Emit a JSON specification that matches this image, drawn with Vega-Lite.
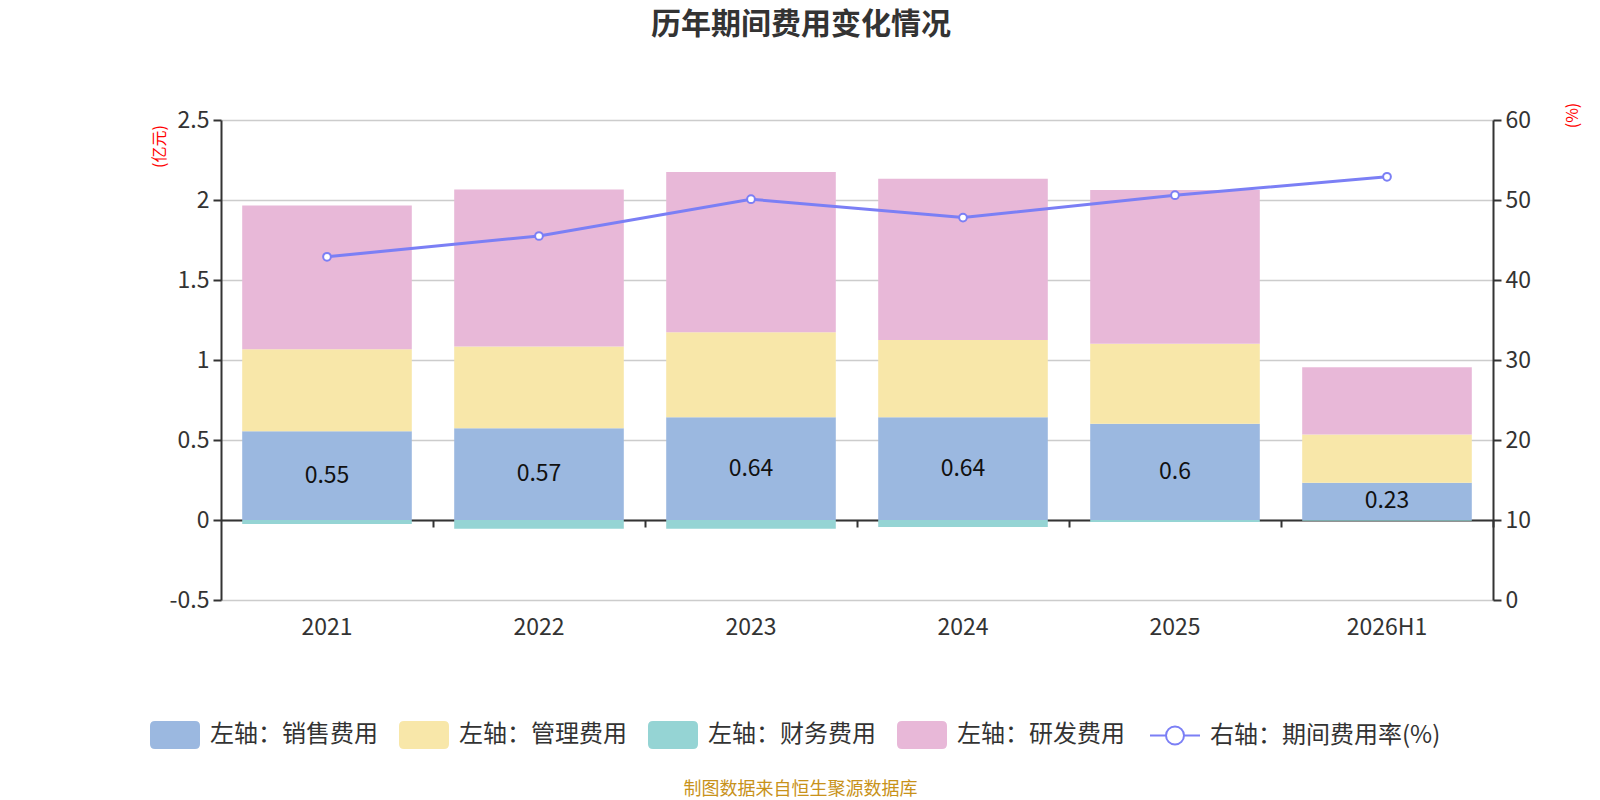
{
  "$schema": "https://vega.github.io/schema/vega-lite/v6.json",
  "description": "历年期间费用变化情况",
  "width": 1272,
  "height": 480,
  "autosize": {"type": "none"},
  "padding": {"left": 221, "top": 120, "right": 107, "bottom": 200},
  "background": "#ffffff",
  "title": {
    "text": "历年期间费用变化情况",
    "font": "Noto Sans CJK SC",
    "fontSize": 30,
    "fontWeight": "bold",
    "color": "#333333",
    "anchor": "middle",
    "dx": -56,
    "offset": 62
  },
  "config": {
    "view": {"stroke": null},
    "font": "Noto Sans CJK SC"
  },
  "datasets": {
    "costs": [
      {"year": "2021", "item": "左轴：销售费用", "value": 0.554},
      {"year": "2021", "item": "左轴：管理费用", "value": 0.513},
      {"year": "2021", "item": "左轴：财务费用", "value": -0.025},
      {"year": "2021", "item": "左轴：研发费用", "value": 0.898},
      {"year": "2022", "item": "左轴：销售费用", "value": 0.573},
      {"year": "2022", "item": "左轴：管理费用", "value": 0.512},
      {"year": "2022", "item": "左轴：财务费用", "value": -0.054},
      {"year": "2022", "item": "左轴：研发费用", "value": 0.98},
      {"year": "2023", "item": "左轴：销售费用", "value": 0.642},
      {"year": "2023", "item": "左轴：管理费用", "value": 0.531},
      {"year": "2023", "item": "左轴：财务费用", "value": -0.054},
      {"year": "2023", "item": "左轴：研发费用", "value": 1.002},
      {"year": "2024", "item": "左轴：销售费用", "value": 0.642},
      {"year": "2024", "item": "左轴：管理费用", "value": 0.483},
      {"year": "2024", "item": "左轴：财务费用", "value": -0.044},
      {"year": "2024", "item": "左轴：研发费用", "value": 1.008},
      {"year": "2025", "item": "左轴：销售费用", "value": 0.602},
      {"year": "2025", "item": "左轴：管理费用", "value": 0.5},
      {"year": "2025", "item": "左轴：财务费用", "value": -0.013},
      {"year": "2025", "item": "左轴：研发费用", "value": 0.96},
      {"year": "2026H1", "item": "左轴：销售费用", "value": 0.233},
      {"year": "2026H1", "item": "左轴：管理费用", "value": 0.302},
      {"year": "2026H1", "item": "左轴：财务费用", "value": -0.004},
      {"year": "2026H1", "item": "左轴：研发费用", "value": 0.419}
    ],
    "rate": [
      {"year": "2021", "rate": 42.9},
      {"year": "2022", "rate": 45.5},
      {"year": "2023", "rate": 50.1},
      {"year": "2024", "rate": 47.8},
      {"year": "2025", "rate": 50.6},
      {"year": "2026H1", "rate": 52.9}
    ]
  },
  "layer": [
    {
      "data": {"name": "costs"},
      "layer": [
        {
          "transform": [
            {
              "calculate": "indexof(['左轴：销售费用','左轴：管理费用','左轴：财务费用','左轴：研发费用'], datum.item)",
              "as": "ord"
            }
          ],
          "mark": {"type": "bar"},
          "encoding": {
            "x": {
              "field": "year",
              "type": "nominal",
              "sort": null,
              "scale": {"paddingInner": 0.2, "paddingOuter": 0.1},
              "axis": {
                "orient": "bottom",
                "domain": false,
                "ticks": false,
                "grid": false,
                "labelAngle": 0,
                "labelFontSize": 23,
                "labelColor": "#333333",
                "labelPadding": 16,
                "title": "制图数据来自恒生聚源数据库",
                "titleColor": "#c8921a",
                "titleFontSize": 18,
                "titleFontWeight": "normal",
                "titleX": 579,
                "titleY": 189,
                "titleAlign": "center",
                "titleBaseline": "middle"
              }
            },
            "y": {
              "field": "value",
              "type": "quantitative",
              "stack": "zero",
              "scale": {"domain": [-0.5, 2.5], "nice": false, "zero": false},
              "axis": {
                "orient": "left",
                "values": [-0.5, 0, 0.5, 1, 1.5, 2, 2.5],
                "labelExpr": "datum.value + ''",
                "labelFontSize": 23,
                "labelColor": "#333333",
                "labelPadding": 4,
                "domain": true,
                "domainColor": "#333333",
                "domainWidth": 2,
                "ticks": true,
                "tickSize": 8,
                "tickWidth": 2,
                "tickColor": "#333333",
                "grid": true,
                "gridColor": "#cccccc",
                "gridWidth": 1.5,
                "title": "(亿元)",
                "titleColor": "#ff0000",
                "titleFontSize": 16,
                "titleFontWeight": "normal",
                "titleAngle": -90,
                "titleX": -62,
                "titleY": 26,
                "titleAlign": "center",
                "titleBaseline": "middle"
              }
            },
            "color": {
              "field": "item",
              "type": "nominal",
              "scale": {
                "domain": ["左轴：销售费用", "左轴：管理费用", "左轴：财务费用", "左轴：研发费用", "右轴：期间费用率(%)"],
                "range": ["#9bb8e0", "#f8e7a9", "#95d4d4", "#e8b8d8", "#7b7ff5"]
              },
              "legend": {
                "orient": "none",
                "direction": "horizontal",
                "legendX": -58,
                "legendY": 603,
                "title": null,
                "labelFontSize": 24,
                "labelColor": "#333333",
                "labelLimit": 400,
                "labelOffset": 23,
                "columnPadding": 21,
                "symbolSize": 2500,
                "symbolOpacity": 1,
                "encode": {
                  "symbols": {
                    "update": {
                      "shape": {"signal": "datum.value === '右轴：期间费用率(%)' ? 'M-1,0H-0.36M0.36,0H1M0.36,0A0.36,0.36 0 1 1 -0.36,0A0.36,0.36 0 1 1 0.36,0' : 'M-0.8,-0.56H0.8Q1,-0.56 1,-0.36V0.36Q1,0.56 0.8,0.56H-0.8Q-1,0.56 -1,0.36V-0.36Q-1,-0.56 -0.8,-0.56Z'"},
                      "fill": {"signal": "datum.value === '右轴：期间费用率(%)' ? '#ffffff' : scale('color', datum.value)"},
                      "fillOpacity": {"signal": "datum.value === '右轴：期间费用率(%)' ? 0 : 1"},
                      "stroke": {"signal": "datum.value === '右轴：期间费用率(%)' ? '#7b7ff5' : 'transparent'"},
                      "strokeWidth": {"signal": "datum.value === '右轴：期间费用率(%)' ? 2 : 0"},
                      "opacity": {"value": 1}
                    }
                  }
                }
              }
            },
            "order": {"field": "ord", "type": "quantitative"}
          }
        },
        {
          "transform": [
            {"filter": "datum.item === '左轴：销售费用'"},
            {"calculate": "datum.value / 2", "as": "mid"}
          ],
          "mark": {"type": "text", "fontSize": 23, "color": "#111111", "baseline": "middle", "align": "center"},
          "encoding": {
            "x": {"field": "year", "type": "nominal", "sort": null},
            "y": {"field": "mid", "type": "quantitative", "scale": {"domain": [-0.5, 2.5], "nice": false, "zero": false}},
            "text": {"field": "value", "type": "quantitative", "format": ".2~f"}
          }
        }
      ]
    },
    {
      "data": {"name": "rate"},
      "encoding": {
        "y": {
          "field": "rate",
          "type": "quantitative",
          "scale": {"domain": [0, 60], "nice": false},
          "axis": {
            "orient": "right",
            "values": [0, 10, 20, 30, 40, 50, 60],
            "labelFontSize": 23,
            "labelColor": "#333333",
            "labelPadding": 4,
            "domain": true,
            "domainColor": "#333333",
            "domainWidth": 2,
            "ticks": true,
            "tickSize": 8,
            "tickWidth": 2,
            "tickColor": "#333333",
            "grid": false,
            "title": "(%)",
            "titleColor": "#ff0000",
            "titleFontSize": 16,
            "titleFontWeight": "normal",
            "titleAngle": -90,
            "titleX": 79,
            "titleY": -5,
            "titleAlign": "center",
            "titleBaseline": "middle"
          }
        }
      },
      "layer": [
        {
          "mark": {"type": "line", "strokeWidth": 3, "color": "#7b7ff5"},
          "encoding": {
            "x": {
              "field": "year",
              "type": "nominal",
              "sort": null,
              "axis": {
                "orient": "bottom",
                "offset": -80,
                "labels": false,
                "grid": false,
                "domain": true,
                "domainColor": "#333333",
                "domainWidth": 2,
                "ticks": true,
                "tickOffset": 106,
                "tickSize": 7,
                "tickWidth": 2,
                "tickColor": "#333333",
                "title": null
              }
            }
          }
        },
        {
          "mark": {"type": "point", "filled": true, "fill": "#ffffff", "stroke": "#7b7ff5", "strokeWidth": 2, "size": 60, "opacity": 1},
          "encoding": {
            "x": {"field": "year", "type": "nominal", "sort": null}
          }
        }
      ]
    }
  ],
  "resolve": {"scale": {"y": "independent"}, "axis": {"x": "independent", "y": "independent"}}
}
